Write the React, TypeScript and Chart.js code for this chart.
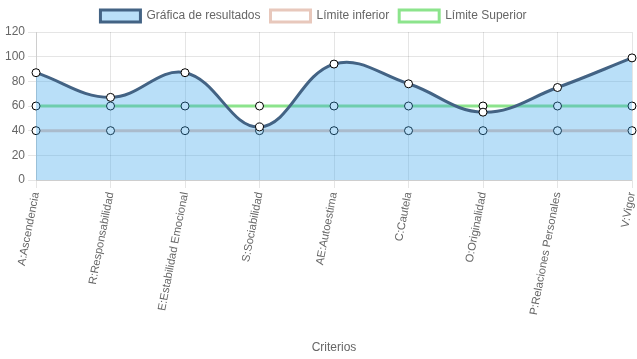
import React, { useEffect, useRef } from "react";
import { Chart, registerables } from "chart.js";

Chart.register(...registerables);

const categories = [
  "A:Ascendencia",
  "R:Responsabilidad",
  "E:Estabilidad Emocional",
  "S:Sociabilidad",
  "AE:Autoestima",
  "C:Cautela",
  "O:Originalidad",
  "P:Relaciones Personales",
  "V:Vigor",
];
const resultados = [87, 67, 87, 43, 94, 78, 55, 75, 99];
const limiteInferior = [40, 40, 40, 40, 40, 40, 40, 40, 40];
const limiteSuperior = [60, 60, 60, 60, 60, 60, 60, 60, 60];
const yTicks = { min: 0, max: 120, step: 20 };

const legendShift = {
  id: "legendShift",
  afterLayout(chart: any) {
    if (chart.legend) {
      chart.legend.left -= 6;
      chart.legend.right -= 6;
    }
  },
};

export default function App() {
  const ref = useRef<HTMLCanvasElement | null>(null);
  useEffect(() => {
    document.body.style.margin = "0";
    const canvas = ref.current!;
    const pointStyle = {
      pointRadius: 4,
      pointBackgroundColor: "#ffffff",
      pointBorderColor: "#000000",
      pointBorderWidth: 1,
    };
    const chart = new Chart(canvas, {
      type: "line",
      data: {
        labels: categories,
        datasets: [
          {
            label: "Gráfica de resultados",
            data: resultados,
            borderColor: "#436384",
            backgroundColor: "rgba(54,162,235,0.35)",
            borderWidth: 3,
            fill: "origin",
            tension: 0.4,
            ...pointStyle,
          },
          {
            label: "Límite inferior",
            data: limiteInferior,
            borderColor: "rgb(232,200,188)",
            backgroundColor: "#ffffff",
            borderWidth: 3,
            fill: false,
            ...pointStyle,
          },
          {
            label: "Límite Superior",
            data: limiteSuperior,
            borderColor: "rgb(140,228,140)",
            backgroundColor: "#ffffff",
            borderWidth: 3,
            fill: false,
            ...pointStyle,
          },
        ],
      },
      options: {
        animation: false,
        responsive: false,
        maintainAspectRatio: false,
        layout: { padding: { left: 2 } },
        plugins: {
          legend: {
            position: "top",
            labels: { color: "#666", font: { size: 12 } },
          },
          tooltip: { enabled: false },
        },
        scales: {
          x: {
            grid: { color: "rgba(0,0,0,0.1)" },
            ticks: { color: "#666", minRotation: 79, maxRotation: 79, font: { size: 11.2 } },
            title: { display: true, text: "Criterios", color: "#666", font: { size: 12 } },
            afterFit: (scale: any) => {
              scale.paddingRight = 4;
              scale.height = 179;
            },
          },
          y: {
            min: yTicks.min,
            max: yTicks.max,
            ticks: { stepSize: yTicks.step, color: "#666", font: { size: 12 } },
            grid: { color: "rgba(0,0,0,0.1)" },
          },
        },
      },
      plugins: [legendShift],
    });
    return () => chart.destroy();
  }, []);
  return (
    <div style={{ width: 637, height: 359 }}>
      <canvas ref={ref} width={637} height={359} style={{ display: "block" }} />
    </div>
  );
}
